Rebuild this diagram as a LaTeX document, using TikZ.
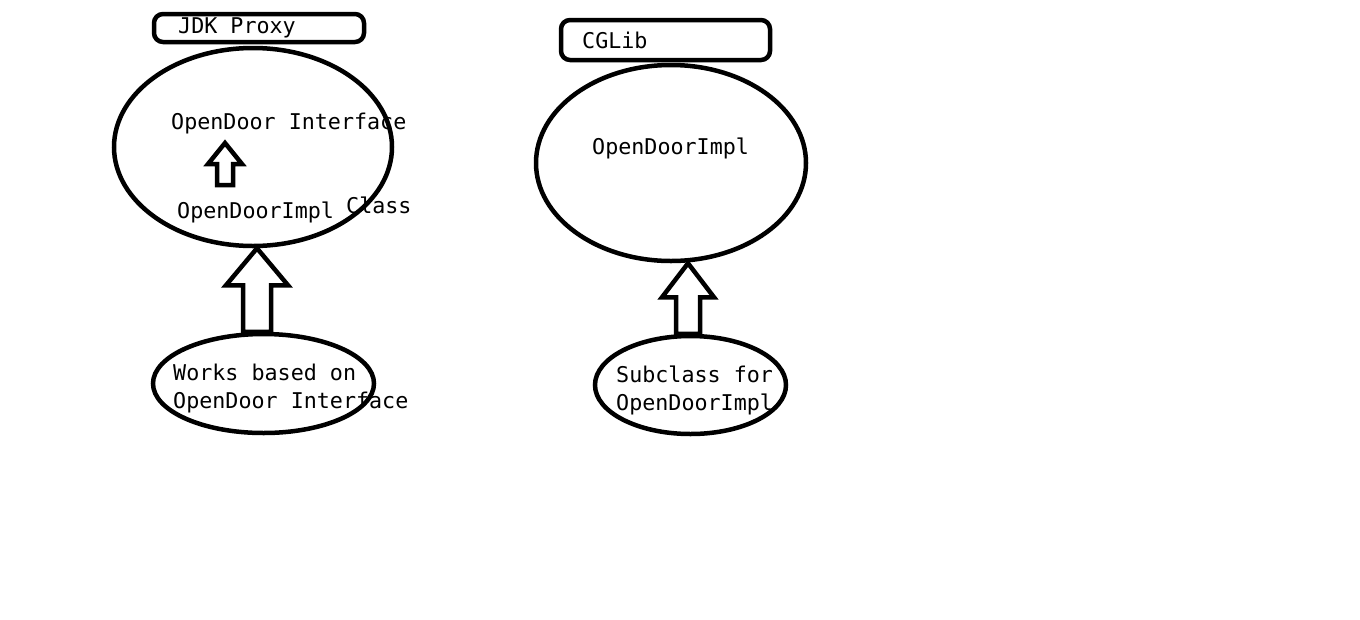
\documentclass[tikz,border=0pt]{standalone}
\usepackage{fontspec}
\setmonofont{DejaVu Sans Mono}
\usetikzlibrary{shapes.geometric,calc}

\tikzset{
  bubble/.style={draw,ellipse,line width=4.5pt,inner sep=0pt},
  tagbox/.style={draw,rounded corners=9pt,line width=4.5pt,inner sep=0pt},
  lbl/.style={anchor=base west,inner sep=0pt,font=\ttfamily\fontsize{21.7}{27.5}\selectfont},
  hollow/.style={draw,line width=4.5pt},
}
% hollow block arrow pointing up: base, tip, shaft half, head half, head length
\newcommand{\hollowarrow}[5]{%
  \draw[hollow] let \p1=(#1), \p2=(#2) in
    (\x2,\y2) -- (\x2+#4,\y2-#5) -- (\x2+#3,\y2-#5) -- (\x2+#3,\y1)
    -- (\x2-#3,\y1) -- (\x2-#3,\y2-#5) -- (\x2-#4,\y2-#5) -- cycle;}

\begin{document}
\begin{tikzpicture}[x=1pt,y=-1pt]
\useasboundingbox (0,0) rectangle (1360,619);
% ================= JDK Proxy =================
\node[tagbox,minimum width=210pt,minimum height=28pt] (jdktag) at (259,28) {};
\node[lbl] (jdkname) at (178,33) {JDK Proxy};
\node[bubble,minimum width=278pt,minimum height=198pt] (jdk) at (253,147) {};
\node[lbl] (iface) at (171,129) {OpenDoor Interface};
\node[lbl] (implL) at (177,218) {OpenDoorImpl};
\node[lbl] (cls) at (346,213) {Class};
\coordinate (up0) at (225,185);
\coordinate (up1) at (225,143);
\hollowarrow{up0}{up1}{8pt}{17pt}{21pt}
\node[bubble,minimum width=221pt,minimum height=99pt] (jdkbase) at (263.5,383.5) {};
\node[lbl,align=left] (works) at (173,408) {Works based on\\OpenDoor Interface};
\hollowarrow{jdkbase.north}{[xshift=4pt]jdk.south}{14pt}{31pt}{37pt}
% ================= CGLib =================
\node[tagbox,minimum width=209pt,minimum height=40pt] (cgtag) at (665.5,40) {};
\node[lbl] (cgname) at (582,48) {CGLib};
\node[bubble,minimum width=270pt,minimum height=196pt] (cg) at (671,163) {};
\node[lbl] (implR) at (592,154) {OpenDoorImpl};
\node[bubble,minimum width=191pt,minimum height=98pt] (cgbase) at (690.5,385) {};
\node[lbl,align=left] (subcls) at (616,410) {Subclass for\\OpenDoorImpl};
\hollowarrow{cgbase.north}{[xshift=17pt]cg.south}{12pt}{26pt}{34pt}
\end{tikzpicture}
\end{document}
